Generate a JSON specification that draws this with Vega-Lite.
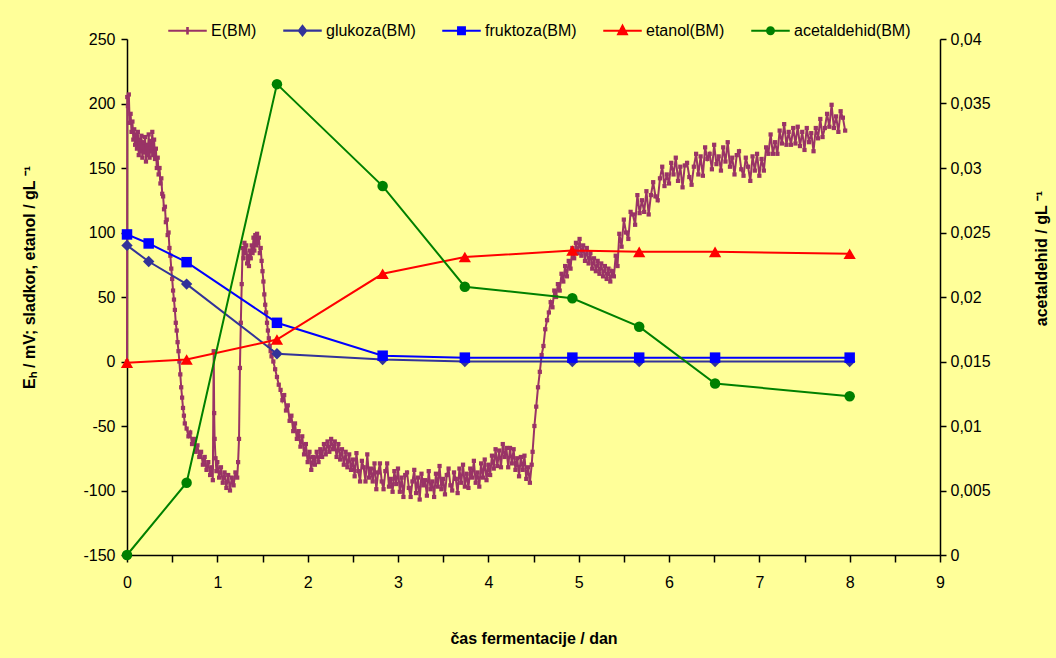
{
  "$schema": "https://vega.github.io/schema/vega-lite/v6.json",
  "width": 813,
  "height": 516,
  "autosize": {"type": "none"},
  "padding": {"left": 127, "top": 39, "right": 116, "bottom": 103},
  "background": "#FFFF99",
  "config": {
    "view": {"stroke": null},
    "font": "Liberation Sans",
    "axis": {
      "grid": false,
      "domainColor": "black",
      "tickColor": "black",
      "domainWidth": 1.5,
      "tickWidth": 1.5,
      "labelColor": "black",
      "titleColor": "black",
      "labelFont": "Liberation Sans",
      "titleFont": "Liberation Sans",
      "labelFontSize": 16,
      "titleFontSize": 16,
      "titleFontWeight": "bold",
      "labelFlush": false,
      "labelOverlap": false
    }
  },
  "datasets": {
    "left": [
      {"s":"E(BM)","t":0,"v":0},{"s":"E(BM)","t":0.003,"v":205},{"s":"E(BM)","t":0.01,"v":198},{"s":"E(BM)","t":0.02,"v":207},{"s":"E(BM)","t":0.03,"v":185},{"s":"E(BM)","t":0.04,"v":192},{"s":"E(BM)","t":0.05,"v":178},{"s":"E(BM)","t":0.06,"v":186},{"s":"E(BM)","t":0.07,"v":172},{"s":"E(BM)","t":0.08,"v":180},{"s":"E(BM)","t":0.09,"v":168},{"s":"E(BM)","t":0.1,"v":176},{"s":"E(BM)","t":0.11,"v":165},{"s":"E(BM)","t":0.12,"v":178},{"s":"E(BM)","t":0.13,"v":160},{"s":"E(BM)","t":0.14,"v":172},{"s":"E(BM)","t":0.15,"v":163},{"s":"E(BM)","t":0.16,"v":175},{"s":"E(BM)","t":0.17,"v":158},{"s":"E(BM)","t":0.18,"v":170},{"s":"E(BM)","t":0.19,"v":162},{"s":"E(BM)","t":0.2,"v":174},{"s":"E(BM)","t":0.21,"v":155},{"s":"E(BM)","t":0.22,"v":168},{"s":"E(BM)","t":0.23,"v":160},{"s":"E(BM)","t":0.24,"v":176},{"s":"E(BM)","t":0.25,"v":158},{"s":"E(BM)","t":0.26,"v":171},{"s":"E(BM)","t":0.27,"v":163},{"s":"E(BM)","t":0.28,"v":178},{"s":"E(BM)","t":0.29,"v":160},{"s":"E(BM)","t":0.3,"v":172},{"s":"E(BM)","t":0.31,"v":157},{"s":"E(BM)","t":0.32,"v":165},{"s":"E(BM)","t":0.33,"v":150},{"s":"E(BM)","t":0.34,"v":158},{"s":"E(BM)","t":0.35,"v":145},{"s":"E(BM)","t":0.36,"v":150},{"s":"E(BM)","t":0.37,"v":138},{"s":"E(BM)","t":0.38,"v":142},{"s":"E(BM)","t":0.39,"v":130},{"s":"E(BM)","t":0.4,"v":128},{"s":"E(BM)","t":0.41,"v":118},{"s":"E(BM)","t":0.42,"v":120},{"s":"E(BM)","t":0.43,"v":108},{"s":"E(BM)","t":0.44,"v":110},{"s":"E(BM)","t":0.45,"v":98},{"s":"E(BM)","t":0.46,"v":100},{"s":"E(BM)","t":0.47,"v":88},{"s":"E(BM)","t":0.48,"v":82},{"s":"E(BM)","t":0.49,"v":72},{"s":"E(BM)","t":0.5,"v":64},{"s":"E(BM)","t":0.51,"v":55},{"s":"E(BM)","t":0.52,"v":48},{"s":"E(BM)","t":0.53,"v":40},{"s":"E(BM)","t":0.54,"v":30},{"s":"E(BM)","t":0.55,"v":24},{"s":"E(BM)","t":0.56,"v":15},{"s":"E(BM)","t":0.57,"v":8},{"s":"E(BM)","t":0.58,"v":0},{"s":"E(BM)","t":0.59,"v":-10},{"s":"E(BM)","t":0.6,"v":-20},{"s":"E(BM)","t":0.61,"v":-28},{"s":"E(BM)","t":0.62,"v":-36},{"s":"E(BM)","t":0.63,"v":-42},{"s":"E(BM)","t":0.64,"v":-48},{"s":"E(BM)","t":0.66,"v":-52},{"s":"E(BM)","t":0.68,"v":-58},{"s":"E(BM)","t":0.7,"v":-55},{"s":"E(BM)","t":0.72,"v":-64},{"s":"E(BM)","t":0.74,"v":-60},{"s":"E(BM)","t":0.76,"v":-70},{"s":"E(BM)","t":0.78,"v":-65},{"s":"E(BM)","t":0.8,"v":-74},{"s":"E(BM)","t":0.82,"v":-70},{"s":"E(BM)","t":0.84,"v":-80},{"s":"E(BM)","t":0.86,"v":-74},{"s":"E(BM)","t":0.88,"v":-84},{"s":"E(BM)","t":0.9,"v":-78},{"s":"E(BM)","t":0.92,"v":-88},{"s":"E(BM)","t":0.94,"v":-82},{"s":"E(BM)","t":0.95,"v":-92},{"s":"E(BM)","t":0.96,"v":8},{"s":"E(BM)","t":0.965,"v":-40},{"s":"E(BM)","t":0.97,"v":-60},{"s":"E(BM)","t":0.98,"v":-75},{"s":"E(BM)","t":0.99,"v":-85},{"s":"E(BM)","t":1.0,"v":-78},{"s":"E(BM)","t":1.02,"v":-90},{"s":"E(BM)","t":1.04,"v":-82},{"s":"E(BM)","t":1.06,"v":-94},{"s":"E(BM)","t":1.08,"v":-86},{"s":"E(BM)","t":1.1,"v":-98},{"s":"E(BM)","t":1.12,"v":-88},{"s":"E(BM)","t":1.14,"v":-100},{"s":"E(BM)","t":1.16,"v":-90},{"s":"E(BM)","t":1.18,"v":-96},{"s":"E(BM)","t":1.2,"v":-86},{"s":"E(BM)","t":1.22,"v":-90},{"s":"E(BM)","t":1.23,"v":-78},{"s":"E(BM)","t":1.24,"v":-60},{"s":"E(BM)","t":1.25,"v":-5},{"s":"E(BM)","t":1.26,"v":30},{"s":"E(BM)","t":1.27,"v":60},{"s":"E(BM)","t":1.28,"v":88},{"s":"E(BM)","t":1.29,"v":80},{"s":"E(BM)","t":1.3,"v":92},{"s":"E(BM)","t":1.31,"v":84},{"s":"E(BM)","t":1.32,"v":90},{"s":"E(BM)","t":1.33,"v":76},{"s":"E(BM)","t":1.34,"v":82},{"s":"E(BM)","t":1.35,"v":74},{"s":"E(BM)","t":1.36,"v":86},{"s":"E(BM)","t":1.37,"v":80},{"s":"E(BM)","t":1.38,"v":90},{"s":"E(BM)","t":1.39,"v":84},{"s":"E(BM)","t":1.4,"v":96},{"s":"E(BM)","t":1.41,"v":86},{"s":"E(BM)","t":1.42,"v":98},{"s":"E(BM)","t":1.43,"v":90},{"s":"E(BM)","t":1.44,"v":99},{"s":"E(BM)","t":1.45,"v":92},{"s":"E(BM)","t":1.46,"v":96},{"s":"E(BM)","t":1.47,"v":84},{"s":"E(BM)","t":1.48,"v":88},{"s":"E(BM)","t":1.49,"v":78},{"s":"E(BM)","t":1.5,"v":70},{"s":"E(BM)","t":1.51,"v":62},{"s":"E(BM)","t":1.52,"v":52},{"s":"E(BM)","t":1.53,"v":44},{"s":"E(BM)","t":1.54,"v":38},{"s":"E(BM)","t":1.55,"v":30},{"s":"E(BM)","t":1.56,"v":24},{"s":"E(BM)","t":1.57,"v":18},{"s":"E(BM)","t":1.58,"v":12},{"s":"E(BM)","t":1.59,"v":8},{"s":"E(BM)","t":1.6,"v":4},{"s":"E(BM)","t":1.62,"v":0},{"s":"E(BM)","t":1.64,"v":-6},{"s":"E(BM)","t":1.66,"v":-12},{"s":"E(BM)","t":1.68,"v":-18},{"s":"E(BM)","t":1.7,"v":-22},{"s":"E(BM)","t":1.72,"v":-30},{"s":"E(BM)","t":1.74,"v":-26},{"s":"E(BM)","t":1.76,"v":-38},{"s":"E(BM)","t":1.78,"v":-34},{"s":"E(BM)","t":1.8,"v":-46},{"s":"E(BM)","t":1.82,"v":-42},{"s":"E(BM)","t":1.84,"v":-54},{"s":"E(BM)","t":1.86,"v":-48},{"s":"E(BM)","t":1.88,"v":-60},{"s":"E(BM)","t":1.9,"v":-54},{"s":"E(BM)","t":1.92,"v":-66},{"s":"E(BM)","t":1.94,"v":-58},{"s":"E(BM)","t":1.96,"v":-72},{"s":"E(BM)","t":1.98,"v":-64},{"s":"E(BM)","t":2.0,"v":-78},{"s":"E(BM)","t":2.02,"v":-70},{"s":"E(BM)","t":2.04,"v":-84},{"s":"E(BM)","t":2.06,"v":-74},{"s":"E(BM)","t":2.08,"v":-80},{"s":"E(BM)","t":2.1,"v":-70},{"s":"E(BM)","t":2.12,"v":-78},{"s":"E(BM)","t":2.14,"v":-68},{"s":"E(BM)","t":2.16,"v":-74},{"s":"E(BM)","t":2.18,"v":-64},{"s":"E(BM)","t":2.2,"v":-72},{"s":"E(BM)","t":2.22,"v":-62},{"s":"E(BM)","t":2.24,"v":-70},{"s":"E(BM)","t":2.26,"v":-60},{"s":"E(BM)","t":2.28,"v":-68},{"s":"E(BM)","t":2.3,"v":-62},{"s":"E(BM)","t":2.32,"v":-74},{"s":"E(BM)","t":2.34,"v":-64},{"s":"E(BM)","t":2.36,"v":-76},{"s":"E(BM)","t":2.38,"v":-68},{"s":"E(BM)","t":2.4,"v":-80},{"s":"E(BM)","t":2.42,"v":-70},{"s":"E(BM)","t":2.44,"v":-82},{"s":"E(BM)","t":2.46,"v":-72},{"s":"E(BM)","t":2.48,"v":-84},
      {"s":"E(BM)","t":2.5,"v":-76},{"s":"E(BM)","t":2.52,"v":-89},{"s":"E(BM)","t":2.54,"v":-71},{"s":"E(BM)","t":2.56,"v":-85},{"s":"E(BM)","t":2.58,"v":-93},{"s":"E(BM)","t":2.6,"v":-77},{"s":"E(BM)","t":2.62,"v":-82},{"s":"E(BM)","t":2.64,"v":-93},{"s":"E(BM)","t":2.66,"v":-72},{"s":"E(BM)","t":2.68,"v":-90},{"s":"E(BM)","t":2.7,"v":-83},{"s":"E(BM)","t":2.72,"v":-93},{"s":"E(BM)","t":2.74,"v":-79},{"s":"E(BM)","t":2.76,"v":-99},{"s":"E(BM)","t":2.78,"v":-86},{"s":"E(BM)","t":2.8,"v":-79},{"s":"E(BM)","t":2.82,"v":-93},{"s":"E(BM)","t":2.84,"v":-99},{"s":"E(BM)","t":2.86,"v":-85},{"s":"E(BM)","t":2.88,"v":-79},{"s":"E(BM)","t":2.9,"v":-97},{"s":"E(BM)","t":2.92,"v":-91},{"s":"E(BM)","t":2.94,"v":-101},{"s":"E(BM)","t":2.96,"v":-85},{"s":"E(BM)","t":2.98,"v":-95},{"s":"E(BM)","t":3.0,"v":-83},{"s":"E(BM)","t":3.02,"v":-101},{"s":"E(BM)","t":3.04,"v":-90},{"s":"E(BM)","t":3.06,"v":-105},{"s":"E(BM)","t":3.08,"v":-88},{"s":"E(BM)","t":3.1,"v":-86},{"s":"E(BM)","t":3.12,"v":-98},{"s":"E(BM)","t":3.14,"v":-105},{"s":"E(BM)","t":3.16,"v":-93},{"s":"E(BM)","t":3.18,"v":-84},{"s":"E(BM)","t":3.2,"v":-102},{"s":"E(BM)","t":3.22,"v":-90},{"s":"E(BM)","t":3.24,"v":-107},{"s":"E(BM)","t":3.26,"v":-87},{"s":"E(BM)","t":3.28,"v":-96},{"s":"E(BM)","t":3.3,"v":-92},{"s":"E(BM)","t":3.32,"v":-104},{"s":"E(BM)","t":3.34,"v":-85},{"s":"E(BM)","t":3.36,"v":-99},{"s":"E(BM)","t":3.38,"v":-93},{"s":"E(BM)","t":3.4,"v":-105},{"s":"E(BM)","t":3.42,"v":-87},{"s":"E(BM)","t":3.44,"v":-97},{"s":"E(BM)","t":3.46,"v":-81},{"s":"E(BM)","t":3.48,"v":-99},{"s":"E(BM)","t":3.5,"v":-91},{"s":"E(BM)","t":3.52,"v":-103},{"s":"E(BM)","t":3.54,"v":-88},{"s":"E(BM)","t":3.56,"v":-83},{"s":"E(BM)","t":3.58,"v":-96},{"s":"E(BM)","t":3.6,"v":-100},{"s":"E(BM)","t":3.62,"v":-86},{"s":"E(BM)","t":3.64,"v":-91},{"s":"E(BM)","t":3.66,"v":-102},{"s":"E(BM)","t":3.68,"v":-83},{"s":"E(BM)","t":3.7,"v":-94},{"s":"E(BM)","t":3.72,"v":-80},{"s":"E(BM)","t":3.74,"v":-97},{"s":"E(BM)","t":3.76,"v":-87},{"s":"E(BM)","t":3.78,"v":-98},{"s":"E(BM)","t":3.8,"v":-83},{"s":"E(BM)","t":3.82,"v":-90},{"s":"E(BM)","t":3.84,"v":-77},{"s":"E(BM)","t":3.86,"v":-94},{"s":"E(BM)","t":3.88,"v":-86},{"s":"E(BM)","t":3.9,"v":-97},{"s":"E(BM)","t":3.92,"v":-79},{"s":"E(BM)","t":3.94,"v":-90},{"s":"E(BM)","t":3.96,"v":-76},{"s":"E(BM)","t":3.98,"v":-92},{"s":"E(BM)","t":4.0,"v":-80},{"s":"E(BM)","t":4.02,"v":-88},{"s":"E(BM)","t":4.04,"v":-73},{"s":"E(BM)","t":4.06,"v":-83},{"s":"E(BM)","t":4.08,"v":-68},{"s":"E(BM)","t":4.1,"v":-81},{"s":"E(BM)","t":4.12,"v":-69},{"s":"E(BM)","t":4.14,"v":-82},{"s":"E(BM)","t":4.16,"v":-64},{"s":"E(BM)","t":4.18,"v":-74},{"s":"E(BM)","t":4.2,"v":-67},{"s":"E(BM)","t":4.22,"v":-82},{"s":"E(BM)","t":4.24,"v":-67},{"s":"E(BM)","t":4.26,"v":-79},{"s":"E(BM)","t":4.28,"v":-68},{"s":"E(BM)","t":4.3,"v":-84},{"s":"E(BM)","t":4.32,"v":-75},{"s":"E(BM)","t":4.34,"v":-89},{"s":"E(BM)","t":4.36,"v":-74},{"s":"E(BM)","t":4.38,"v":-84},{"s":"E(BM)","t":4.4,"v":-73},{"s":"E(BM)","t":4.42,"v":-91},{"s":"E(BM)","t":4.44,"v":-82},{"s":"E(BM)","t":4.46,"v":-94},{"s":"E(BM)","t":4.48,"v":-80},
      {"s":"E(BM)","t":4.49,"v":-70},{"s":"E(BM)","t":4.51,"v":-50},{"s":"E(BM)","t":4.53,"v":-35},{"s":"E(BM)","t":4.55,"v":-20},{"s":"E(BM)","t":4.57,"v":-8},{"s":"E(BM)","t":4.59,"v":5},{"s":"E(BM)","t":4.61,"v":12},{"s":"E(BM)","t":4.63,"v":25},{"s":"E(BM)","t":4.65,"v":32},{"s":"E(BM)","t":4.67,"v":38},{"s":"E(BM)","t":4.69,"v":46},{"s":"E(BM)","t":4.71,"v":42},{"s":"E(BM)","t":4.73,"v":55},{"s":"E(BM)","t":4.75,"v":50},{"s":"E(BM)","t":4.77,"v":60},{"s":"E(BM)","t":4.79,"v":55},{"s":"E(BM)","t":4.81,"v":68},{"s":"E(BM)","t":4.83,"v":62},{"s":"E(BM)","t":4.85,"v":74},{"s":"E(BM)","t":4.87,"v":66},{"s":"E(BM)","t":4.89,"v":78},{"s":"E(BM)","t":4.91,"v":72},{"s":"E(BM)","t":4.93,"v":88},{"s":"E(BM)","t":4.95,"v":80},{"s":"E(BM)","t":4.97,"v":92},{"s":"E(BM)","t":4.99,"v":84},{"s":"E(BM)","t":5.01,"v":95},{"s":"E(BM)","t":5.03,"v":82},{"s":"E(BM)","t":5.05,"v":90},{"s":"E(BM)","t":5.07,"v":78},{"s":"E(BM)","t":5.09,"v":88},{"s":"E(BM)","t":5.11,"v":76},{"s":"E(BM)","t":5.13,"v":84},{"s":"E(BM)","t":5.15,"v":72},{"s":"E(BM)","t":5.17,"v":80},{"s":"E(BM)","t":5.19,"v":70},{"s":"E(BM)","t":5.21,"v":78},{"s":"E(BM)","t":5.23,"v":68},{"s":"E(BM)","t":5.25,"v":76},{"s":"E(BM)","t":5.27,"v":66},{"s":"E(BM)","t":5.29,"v":74},{"s":"E(BM)","t":5.31,"v":64},{"s":"E(BM)","t":5.33,"v":72},{"s":"E(BM)","t":5.35,"v":62},{"s":"E(BM)","t":5.37,"v":70},{"s":"E(BM)","t":5.39,"v":66},{"s":"E(BM)","t":5.41,"v":82},{"s":"E(BM)","t":5.43,"v":74},
      {"s":"E(BM)","t":5.45,"v":99},{"s":"E(BM)","t":5.475,"v":89},{"s":"E(BM)","t":5.5,"v":110},{"s":"E(BM)","t":5.525,"v":100},{"s":"E(BM)","t":5.55,"v":95},{"s":"E(BM)","t":5.575,"v":116},{"s":"E(BM)","t":5.6,"v":114},{"s":"E(BM)","t":5.625,"v":106},{"s":"E(BM)","t":5.65,"v":129},{"s":"E(BM)","t":5.675,"v":115},{"s":"E(BM)","t":5.7,"v":125},{"s":"E(BM)","t":5.725,"v":116},{"s":"E(BM)","t":5.75,"v":132},{"s":"E(BM)","t":5.775,"v":114},{"s":"E(BM)","t":5.8,"v":129},{"s":"E(BM)","t":5.825,"v":139},{"s":"E(BM)","t":5.85,"v":128},{"s":"E(BM)","t":5.875,"v":125},{"s":"E(BM)","t":5.9,"v":142},{"s":"E(BM)","t":5.925,"v":151},{"s":"E(BM)","t":5.95,"v":136},{"s":"E(BM)","t":5.975,"v":145},{"s":"E(BM)","t":6.0,"v":138},{"s":"E(BM)","t":6.025,"v":154},{"s":"E(BM)","t":6.05,"v":145},{"s":"E(BM)","t":6.075,"v":158},{"s":"E(BM)","t":6.1,"v":140},{"s":"E(BM)","t":6.125,"v":151},{"s":"E(BM)","t":6.15,"v":135},{"s":"E(BM)","t":6.175,"v":152},{"s":"E(BM)","t":6.2,"v":154},{"s":"E(BM)","t":6.225,"v":143},{"s":"E(BM)","t":6.25,"v":137},{"s":"E(BM)","t":6.275,"v":151},{"s":"E(BM)","t":6.3,"v":161},{"s":"E(BM)","t":6.325,"v":145},{"s":"E(BM)","t":6.35,"v":159},{"s":"E(BM)","t":6.375,"v":144},{"s":"E(BM)","t":6.4,"v":166},{"s":"E(BM)","t":6.425,"v":157},{"s":"E(BM)","t":6.45,"v":161},{"s":"E(BM)","t":6.475,"v":149},{"s":"E(BM)","t":6.5,"v":168},{"s":"E(BM)","t":6.525,"v":153},{"s":"E(BM)","t":6.55,"v":159},{"s":"E(BM)","t":6.575,"v":148},{"s":"E(BM)","t":6.6,"v":166},{"s":"E(BM)","t":6.625,"v":155},{"s":"E(BM)","t":6.65,"v":170},{"s":"E(BM)","t":6.675,"v":151},{"s":"E(BM)","t":6.7,"v":158},{"s":"E(BM)","t":6.725,"v":145},{"s":"E(BM)","t":6.75,"v":160},{"s":"E(BM)","t":6.775,"v":163},{"s":"E(BM)","t":6.8,"v":149},{"s":"E(BM)","t":6.825,"v":144},{"s":"E(BM)","t":6.85,"v":158},{"s":"E(BM)","t":6.875,"v":151},{"s":"E(BM)","t":6.9,"v":140},{"s":"E(BM)","t":6.925,"v":159},{"s":"E(BM)","t":6.95,"v":148},{"s":"E(BM)","t":6.975,"v":161},{"s":"E(BM)","t":7.0,"v":144},{"s":"E(BM)","t":7.025,"v":157},{"s":"E(BM)","t":7.05,"v":148},{"s":"E(BM)","t":7.075,"v":166},{"s":"E(BM)","t":7.1,"v":161},{"s":"E(BM)","t":7.125,"v":176},{"s":"E(BM)","t":7.15,"v":161},{"s":"E(BM)","t":7.175,"v":170},{"s":"E(BM)","t":7.2,"v":161},{"s":"E(BM)","t":7.225,"v":179},{"s":"E(BM)","t":7.25,"v":169},{"s":"E(BM)","t":7.275,"v":184},{"s":"E(BM)","t":7.3,"v":168},{"s":"E(BM)","t":7.325,"v":178},{"s":"E(BM)","t":7.35,"v":168},{"s":"E(BM)","t":7.375,"v":181},{"s":"E(BM)","t":7.4,"v":169},{"s":"E(BM)","t":7.425,"v":182},{"s":"E(BM)","t":7.45,"v":167},{"s":"E(BM)","t":7.475,"v":178},{"s":"E(BM)","t":7.5,"v":164},{"s":"E(BM)","t":7.525,"v":181},{"s":"E(BM)","t":7.55,"v":170},{"s":"E(BM)","t":7.575,"v":177},{"s":"E(BM)","t":7.6,"v":163},{"s":"E(BM)","t":7.625,"v":181},{"s":"E(BM)","t":7.65,"v":173},{"s":"E(BM)","t":7.675,"v":188},{"s":"E(BM)","t":7.7,"v":174},{"s":"E(BM)","t":7.725,"v":181},{"s":"E(BM)","t":7.75,"v":192},{"s":"E(BM)","t":7.775,"v":182},{"s":"E(BM)","t":7.8,"v":199},{"s":"E(BM)","t":7.825,"v":181},{"s":"E(BM)","t":7.85,"v":190},{"s":"E(BM)","t":7.875,"v":178},{"s":"E(BM)","t":7.9,"v":194},{"s":"E(BM)","t":7.925,"v":189},{"s":"E(BM)","t":7.95,"v":179},
      {"s":"glukoza(BM)","t":0,"v":90},{"s":"glukoza(BM)","t":0.24,"v":77.5},{"s":"glukoza(BM)","t":0.66,"v":60},{"s":"glukoza(BM)","t":1.66,"v":6},{"s":"glukoza(BM)","t":2.83,"v":1.5},{"s":"glukoza(BM)","t":3.74,"v":0},{"s":"glukoza(BM)","t":4.93,"v":0},{"s":"glukoza(BM)","t":5.67,"v":0},{"s":"glukoza(BM)","t":6.51,"v":0},{"s":"glukoza(BM)","t":8.0,"v":0},
      {"s":"fruktoza(BM)","t":0,"v":98.5},{"s":"fruktoza(BM)","t":0.24,"v":91.5},{"s":"fruktoza(BM)","t":0.66,"v":77},{"s":"fruktoza(BM)","t":1.66,"v":30},{"s":"fruktoza(BM)","t":2.83,"v":4.5},{"s":"fruktoza(BM)","t":3.74,"v":3},{"s":"fruktoza(BM)","t":4.93,"v":3},{"s":"fruktoza(BM)","t":5.67,"v":3},{"s":"fruktoza(BM)","t":6.51,"v":3},{"s":"fruktoza(BM)","t":8.0,"v":3},
      {"s":"etanol(BM)","t":0,"v":-1},{"s":"etanol(BM)","t":0.66,"v":1.5},{"s":"etanol(BM)","t":1.66,"v":17},{"s":"etanol(BM)","t":2.83,"v":68},{"s":"etanol(BM)","t":3.74,"v":81},{"s":"etanol(BM)","t":4.93,"v":86},{"s":"etanol(BM)","t":5.67,"v":85},{"s":"etanol(BM)","t":6.51,"v":85},{"s":"etanol(BM)","t":8.0,"v":83.5}
    ],
    "acet": [
      {"s":"acetaldehid(BM)","t":0,"v":0},{"s":"acetaldehid(BM)","t":0.66,"v":0.0056},{"s":"acetaldehid(BM)","t":1.66,"v":0.0365},{"s":"acetaldehid(BM)","t":2.83,"v":0.0286},{"s":"acetaldehid(BM)","t":3.74,"v":0.0208},{"s":"acetaldehid(BM)","t":4.93,"v":0.0199},{"s":"acetaldehid(BM)","t":5.67,"v":0.0177},{"s":"acetaldehid(BM)","t":6.51,"v":0.0133},{"s":"acetaldehid(BM)","t":8.0,"v":0.0123}
    ]
  },
  "encoding": {
    "x": {
      "field": "t",
      "type": "quantitative",
      "scale": {"domain": [0, 9], "nice": false, "zero": false},
      "axis": {
        "values": [0,0.5,1,1.5,2,2.5,3,3.5,4,4.5,5,5.5,6,6.5,7,7.5,8,8.5,9],
        "labelExpr": "datum.value % 1 === 0 ? '' + datum.value : ''",
        "title": "čas fermentacije / dan",
        "tickSize": 7,
        "labelPadding": 12,
        "labelAngle": 0,
        "titleY": 75
      }
    },
    "color": {
      "field": "s",
      "type": "nominal",
      "scale": {
        "domain": ["E(BM)", "glukoza(BM)", "fruktoza(BM)", "etanol(BM)", "acetaldehid(BM)"],
        "range": ["#993366", "#333399", "#0000FF", "#FF0000", "#008000"]
      },
      "legend": {
        "title": null,
        "orient": "none",
        "legendX": 41,
        "legendY": -28,
        "direction": "horizontal",
        "labelFont": "Liberation Sans",
        "labelFontSize": 16,
        "labelColor": "black",
        "symbolSize": 1369,
        "symbolOpacity": 1,
        "symbolStrokeWidth": 1.5,
        "labelOffset": 4,
        "columnPadding": 24
      }
    }
  },
  "layer": [
    {
      "data": {"name": "left"},
      "encoding": {
        "y": {
          "field": "v",
          "type": "quantitative",
          "scale": {"domain": [-150, 250], "nice": false, "zero": false},
          "axis": {
            "values": [-150,-100,-50,0,50,100,150,200,250],
            "labelExpr": "'' + datum.value",
            "title": "Eₕ / mV;  sladkor, etanol / gL ⁻¹",
            "tickSize": 6,
            "labelPadding": 6,
            "titleX": -90,
            "titleY": 238
          }
        }
      },
      "layer": [
        {
          "mark": {"type": "point", "filled": true, "opacity": 0},
          "encoding": {
            "shape": {
              "field": "s",
              "type": "nominal",
              "scale": {
                "domain": ["E(BM)", "glukoza(BM)", "fruktoza(BM)", "etanol(BM)", "acetaldehid(BM)"],
                "range": [
                  "M-1,-0.02H1V0.02H-1ZM-0.03,-0.16H0.03V0.16H-0.03Z",
                  "M-1,-0.02H1V0.02H-1ZM0,-0.28L0.22,0L0,0.28L-0.22,0ZM0,-0.196L0.154,0L0,0.196L-0.154,0ZM0,-0.112L0.088,0L0,0.112L-0.088,0ZM0,-0.034L0.026,0L0,0.034L-0.026,0Z",
                  "M-1,-0.02H1V0.02H-1ZM-0.2,-0.2H0.2V0.2H-0.2ZM-0.13,-0.13H0.13V0.13H-0.13ZM-0.06,-0.06H0.06V0.06H-0.06Z",
                  "M-1,-0.02H1V0.02H-1ZM0,-0.3L0.26,0.2H-0.26ZM0,-0.183L0.169,0.142H-0.169ZM0,-0.084L0.091,0.091H-0.091ZM0,0L0.026,0.05H-0.026Z",
                  "M-1,-0.02H1V0.02H-1ZM0.2,0A0.2,0.2,0,1,1,-0.2,0A0.2,0.2,0,1,1,0.2,0ZM0.13,0A0.13,0.13,0,1,1,-0.13,0A0.13,0.13,0,1,1,0.13,0ZM0.06,0A0.06,0.06,0,1,1,-0.06,0A0.06,0.06,0,1,1,0.06,0Z"
                ]
              }
            }
          }
        },
        {
          "transform": [{"filter": "datum.s === 'E(BM)'"}],
          "mark": {"type": "line", "strokeWidth": 2}
        },
        {
          "transform": [{"filter": "datum.s === 'E(BM)'"}],
          "mark": {"type": "point", "shape": "square", "filled": true, "size": 18, "opacity": 1}
        },
        {
          "transform": [{"filter": "datum.s !== 'E(BM)'"}],
          "mark": {"type": "line", "strokeWidth": 2}
        },
        {
          "transform": [{"filter": "datum.s === 'glukoza(BM)'"}],
          "mark": {"type": "point", "shape": "diamond", "filled": true, "size": 130, "opacity": 1}
        },
        {
          "transform": [{"filter": "datum.s === 'fruktoza(BM)'"}],
          "mark": {"type": "point", "shape": "square", "filled": true, "size": 110, "opacity": 1}
        },
        {
          "transform": [{"filter": "datum.s === 'etanol(BM)'"}],
          "mark": {"type": "point", "shape": "triangle-up", "filled": true, "size": 150, "opacity": 1}
        }
      ]
    },
    {
      "data": {"name": "acet"},
      "encoding": {
        "y": {
          "field": "v",
          "type": "quantitative",
          "scale": {"domain": [0, 0.04], "nice": false, "zero": false},
          "axis": {
            "orient": "right",
            "values": [0,0.005,0.01,0.015,0.02,0.025,0.03,0.035,0.04],
            "labelExpr": "replace('' + datum.value, '.', ',')",
            "title": "acetaldehid / gL ⁻¹",
            "tickSize": 6,
            "labelPadding": 4,
            "titleAngle": 270,
            "titleBaseline": "top",
            "titleX": 93,
            "titleY": 219
          }
        }
      },
      "layer": [
        {"mark": {"type": "line", "strokeWidth": 2}},
        {"mark": {"type": "point", "shape": "circle", "filled": true, "size": 110, "opacity": 1}}
      ]
    }
  ],
  "resolve": {"scale": {"y": "independent"}}
}
